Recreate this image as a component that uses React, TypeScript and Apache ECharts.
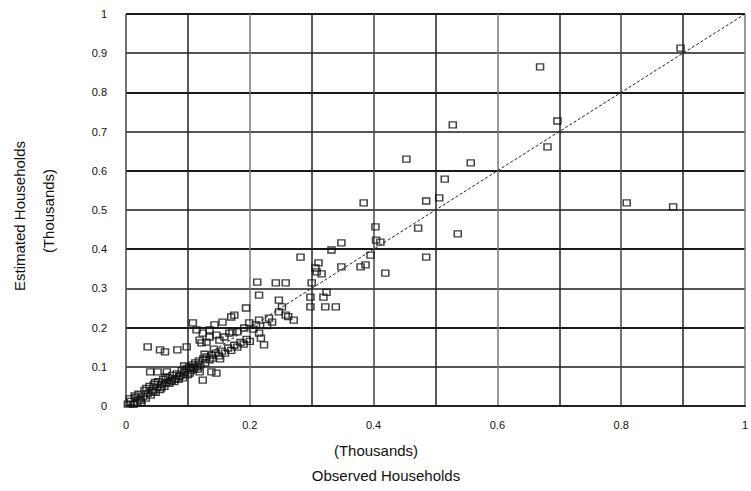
import React, { useEffect, useRef } from "react";
import * as echarts from "echarts";

// Observed vs. estimated households (thousands)
const observed: number[] = [
  0.896, 0.669, 0.697, 0.681, 0.528, 0.453, 0.557, 0.515, 0.384, 0.485, 0.506, 0.809, 0.884, 0.536,
  0.472, 0.485, 0.403, 0.404, 0.411, 0.395, 0.348, 0.332, 0.419, 0.282, 0.348, 0.379, 0.387, 0.306,
  0.311, 0.308, 0.316, 0.300, 0.298, 0.319, 0.324, 0.298, 0.322, 0.339,
  0.242, 0.258, 0.212, 0.215, 0.247, 0.252, 0.247, 0.258, 0.271, 0.231, 0.215, 0.210, 0.194, 0.215,
  0.218, 0.223, 0.170, 0.156, 0.143, 0.135, 0.108, 0.114, 0.124, 0.119, 0.135, 0.146, 0.159, 0.172,
  0.175, 0.199, 0.191, 0.180, 0.167, 0.151, 0.130, 0.122,
  0.035, 0.055, 0.063, 0.083, 0.098,
  0.119, 0.138, 0.146, 0.124, 0.103,
  0.039, 0.051, 0.066,
  0.003, 0.008, 0.012, 0.015, 0.018, 0.020, 0.022, 0.025, 0.028, 0.030, 0.032, 0.035, 0.038, 0.040,
  0.042, 0.045, 0.048, 0.050, 0.052, 0.055, 0.058, 0.060, 0.062, 0.065, 0.068, 0.070, 0.072, 0.075,
  0.078, 0.080, 0.082, 0.085, 0.088, 0.090, 0.092, 0.095, 0.098, 0.100, 0.102, 0.105, 0.108, 0.110,
  0.112, 0.115, 0.118, 0.120, 0.125, 0.128, 0.130, 0.135, 0.138, 0.140, 0.145, 0.150, 0.155, 0.160,
  0.165, 0.170, 0.175, 0.180, 0.185, 0.190, 0.195, 0.200,
  0.006, 0.014, 0.024, 0.033, 0.044, 0.047, 0.057, 0.064, 0.074, 0.086, 0.094, 0.106, 0.116, 0.127,
  0.142, 0.152, 0.206, 0.228, 0.236, 0.262,
];

const estimated: number[] = [
  0.913, 0.865, 0.727, 0.661, 0.717, 0.630, 0.620, 0.579, 0.518, 0.523, 0.531, 0.518, 0.508, 0.439,
  0.454, 0.380, 0.457, 0.423, 0.418, 0.385, 0.416, 0.398, 0.339, 0.380, 0.355, 0.355, 0.360, 0.352,
  0.365, 0.342, 0.337, 0.314, 0.278, 0.278, 0.290, 0.253, 0.253, 0.253,
  0.314, 0.314, 0.316, 0.283, 0.270, 0.253, 0.240, 0.232, 0.219, 0.224, 0.219, 0.207, 0.250, 0.186,
  0.173, 0.156, 0.227, 0.214, 0.207, 0.194, 0.212, 0.194, 0.186, 0.168, 0.176, 0.181, 0.176, 0.189,
  0.232, 0.212, 0.199, 0.189, 0.186, 0.168, 0.163, 0.161,
  0.151, 0.143, 0.138, 0.143, 0.151,
  0.087, 0.087, 0.084, 0.066, 0.084,
  0.087, 0.087, 0.087,
  0.005, 0.012, 0.004, 0.022, 0.010, 0.030, 0.018, 0.008, 0.025, 0.040, 0.020, 0.032, 0.050, 0.028,
  0.040, 0.055, 0.035, 0.048, 0.062, 0.042, 0.055, 0.068, 0.050, 0.060, 0.072, 0.058, 0.066, 0.078,
  0.062, 0.070, 0.082, 0.068, 0.078, 0.090, 0.072, 0.085, 0.095, 0.080, 0.100, 0.090, 0.105, 0.095,
  0.110, 0.100, 0.115, 0.105, 0.120, 0.110, 0.125, 0.118, 0.130, 0.122, 0.135, 0.128, 0.140, 0.135,
  0.148, 0.142, 0.155, 0.150, 0.162, 0.158, 0.170, 0.165,
  0.018, 0.026, 0.014, 0.045, 0.036, 0.060, 0.046, 0.074, 0.064, 0.075, 0.102, 0.098, 0.094, 0.132,
  0.145, 0.120, 0.196, 0.205, 0.214, 0.228,
];

// Reference line y = x
const diagonal: [number, number][] = [
  [0, 0],
  [1, 1],
];

const xTickLabels: string[] = ["0", "0.2", "0.4", "0.6", "0.8", "1"];
const yTickLabels: string[] = ["0", "0.1", "0.2", "0.3", "0.4", "0.5", "0.6", "0.7", "0.8", "0.9", "1"];

const xTitle = "Observed Households";
const yTitle = "Estimated Households";
const unitTitle = "(Thousands)";

export default function App() {
  const ref = useRef<HTMLDivElement>(null);

  useEffect(() => {
    document.body.style.margin = "0";
    if (!ref.current) return;
    const chart = echarts.init(ref.current, undefined, { renderer: "svg" });
    const points = observed.map((x, i) => [x, estimated[i]]);
    const labelFont = "Liberation Sans, Arial, sans-serif";
    const titleFont = "Liberation Sans Narrow, Liberation Sans, Arial, sans-serif";

    chart.setOption({
      animation: false,
      backgroundColor: "#ffffff",
      grid: { left: 126, right: 2, top: 14, bottom: 85, containLabel: false },
      xAxis: {
        type: "value",
        min: 0,
        max: 1,
        interval: 0.1,
        axisLine: { show: true, lineStyle: { color: "#222", width: 2 } },
        axisTick: { show: false },
        axisLabel: {
          color: "#111",
          fontSize: 11,
          fontFamily: labelFont,
          margin: 13,
          formatter: (v: number) => {
            const k = Math.round(v * 10);
            return k % 2 === 0 ? xTickLabels[k / 2] : "";
          },
        },
        splitLine: { show: true, lineStyle: { color: ["#444", "#222", "#777", "#222"], width: 1.5 } },
      },
      yAxis: {
        type: "value",
        min: 0,
        max: 1,
        interval: 0.1,
        axisLine: { show: false },
        axisTick: { show: false },
        axisLabel: {
          color: "#111",
          fontSize: 11,
          fontFamily: labelFont,
          margin: 19,
          formatter: (v: number) => yTickLabels[Math.round(v * 10)],
        },
        splitLine: { show: true, lineStyle: { color: ["#1a1a1a", "#555"], width: 2 } },
      },
      series: [
        {
          type: "line",
          data: diagonal,
          symbol: "none",
          lineStyle: { color: "#222", width: 1, type: [3, 2] },
          z: 3,
        },
        {
          type: "scatter",
          data: points,
          symbol: "rect",
          symbolSize: [7, 6],
          itemStyle: { color: "rgba(255,255,255,0)", borderColor: "#111", borderWidth: 1.4 },
          z: 4,
        },
      ],
      graphic: [
        {
          type: "text",
          x: 376,
          y: 450,
          style: { text: unitTitle, fill: "#111", font: `15px ${titleFont}`, align: "center", verticalAlign: "middle" },
        },
        {
          type: "text",
          x: 386,
          y: 475,
          style: { text: xTitle, fill: "#111", font: `15px ${titleFont}`, align: "center", verticalAlign: "middle" },
        },
        {
          type: "text",
          x: 19,
          y: 216,
          rotation: Math.PI / 2,
          style: { text: yTitle, fill: "#111", font: `15px ${titleFont}`, align: "center", verticalAlign: "middle" },
        },
        {
          type: "text",
          x: 48,
          y: 211,
          rotation: Math.PI / 2,
          style: { text: unitTitle, fill: "#111", font: `15px ${titleFont}`, align: "center", verticalAlign: "middle" },
        },
      ],
    });

    return () => chart.dispose();
  }, []);

  return <div ref={ref} style={{ width: 751, height: 491 }} />;
}
